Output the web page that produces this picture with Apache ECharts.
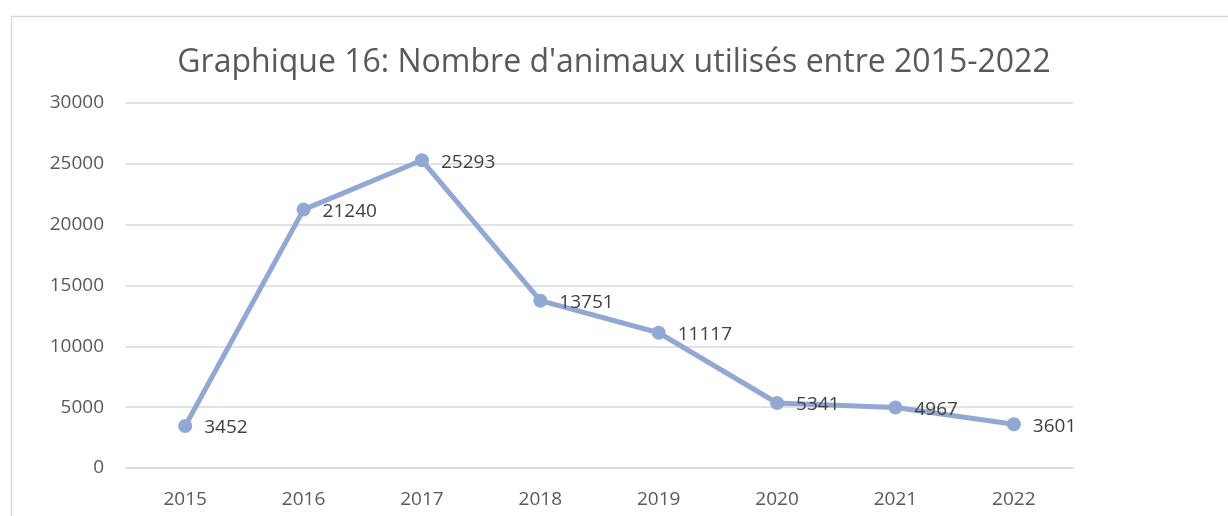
<!DOCTYPE html>
<html><head><meta charset="utf-8">
<script src="https://cdn.jsdelivr.net/npm/echarts@6/dist/echarts.min.js"></script>
<style>html,body{margin:0;padding:0;background:#fff;}#c{width:1228px;height:516px;}</style>
</head><body><div id="c"></div>
<script>
const titleText = "Graphique 16: Nombre d'animaux utilisés entre 2015-2022";
const years = ["2015","2016","2017","2018","2019","2020","2021","2022"];
const animals = [3452, 21240, 25293, 13751, 11117, 5341, 4967, 3601];
const yTicks = {min: 0, max: 30000, interval: 5000};
const FONT = "'Open Sans', sans-serif";
const chart = echarts.init(document.getElementById('c'));
chart.setOption({
  animation: false,
  backgroundColor: '#fff',
  graphic: [{type:'rect', left:9, top:14, shape:{width:1240, height:520}, style:{fill:'none', stroke:'#d9d9d9', lineWidth:1.5}}],
  title: {text: titleText, left: 'center', top: 42, textStyle:{fontFamily:FONT, fontSize:32, fontWeight:'normal', color:'#595959'}},
  grid: {left:126, right:155, top:103, bottom:48},
  xAxis: {type:'category', data: years, boundaryGap:true,
    axisLine:{show:true, lineStyle:{color:'#d9d9d9', width:1.5}}, axisTick:{show:false},
    axisLabel:{color:'#595959', fontFamily:FONT, fontSize:19, margin:22}},
  yAxis: {type:'value', min:yTicks.min, max:yTicks.max, interval:yTicks.interval,
    axisLine:{show:false}, axisTick:{show:false},
    splitLine:{lineStyle:{color:'#d9d9d9', width:1.5}},
    axisLabel:{color:'#595959', fontFamily:FONT, fontSize:19, margin:22, formatter: v => String(v)}},
  series: [{type:'line', data: animals, symbol:'circle', symbolSize:14,
    lineStyle:{color:'#91a8d4', width:5}, itemStyle:{color:'#91a8d4'},
    label:{show:true, position:'right', distance:12, offset:[0,2], color:'#404040', fontFamily:FONT, fontSize:19}}]
});
</script></body></html>
